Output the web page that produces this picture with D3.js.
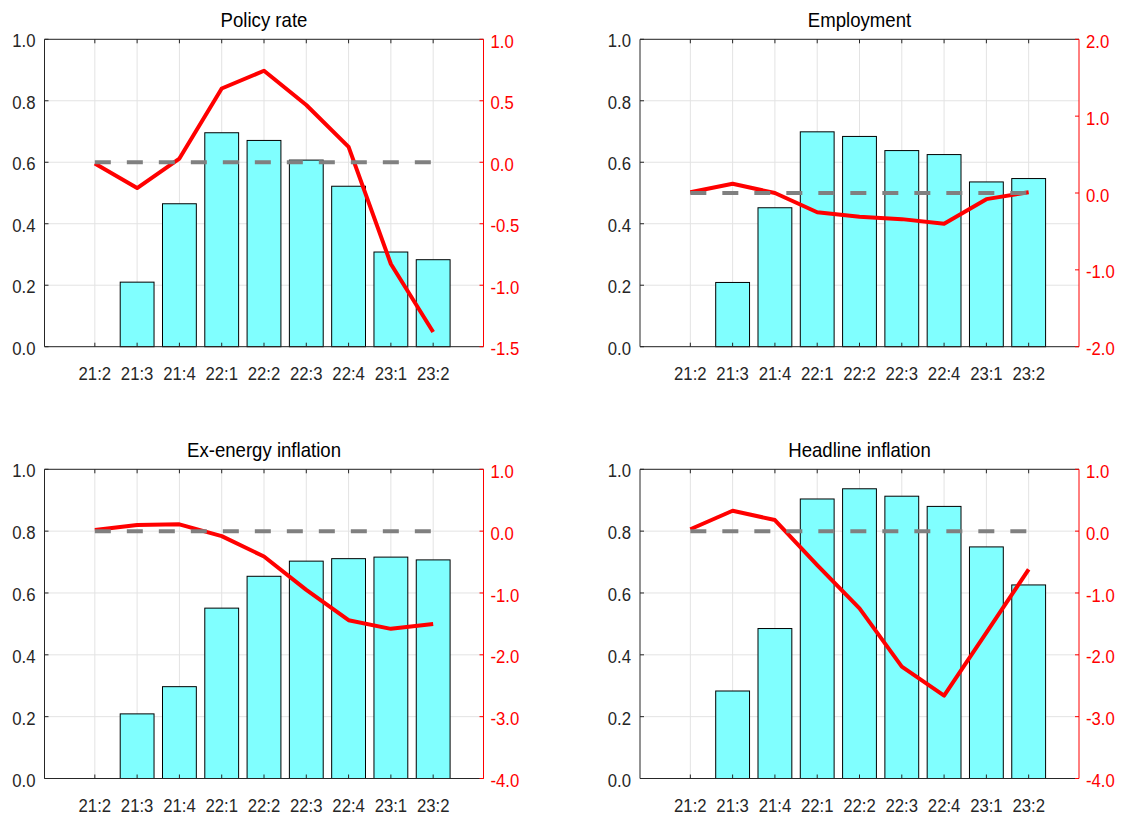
<!DOCTYPE html>
<html>
<head>
<meta charset="utf-8">
<script src="https://cdn.jsdelivr.net/npm/d3@7"></script>
<style>
  html, body { margin: 0; padding: 0; background: #ffffff; }
  svg text { font-family: "Liberation Sans", Arial, sans-serif; }
</style>
</head>
<body>
<svg id="chart" width="1126" height="821"></svg>
<script>
// Quarters shown on every panel
const categories = ["21:2", "21:3", "21:4", "22:1", "22:2", "22:3", "22:4", "23:1", "23:2"];

// Bar series (left axis, 0..1)
const policyBars     = [0, 0.21, 0.465, 0.696, 0.671, 0.607, 0.522, 0.308, 0.283];
const employmentBars = [0, 0.209, 0.452, 0.699, 0.684, 0.638, 0.625, 0.536, 0.547];
const exEnergyBars   = [0, 0.209, 0.297, 0.551, 0.654, 0.703, 0.711, 0.716, 0.707];
const headlineBars   = [0, 0.283, 0.485, 0.904, 0.937, 0.913, 0.880, 0.749, 0.626];

// Line series (right axis)
const policyLine     = [-0.01, -0.21, 0.03, 0.60, 0.744, 0.466, 0.125, -0.827, -1.38];
const employmentLine = [0.01, 0.12, 0.0, -0.25, -0.31, -0.34, -0.40, -0.08, 0.01];
const exEnergyLine   = [0.02, 0.10, 0.11, -0.08, -0.41, -0.95, -1.44, -1.58, -1.50];
const headlineLine   = [0.03, 0.33, 0.18, -0.55, -1.25, -2.19, -2.66, -1.64, -0.62];

// Axis settings
const titles       = ["Policy rate", "Employment", "Ex-energy inflation", "Headline inflation"];
const leftTicks    = [0, 0.2, 0.4, 0.6, 0.8, 1.0];
const rightDomains = [[-1.5, 1], [-2, 2], [-4, 1], [-4, 1]];
const rightTicks   = [
  [-1.5, -1.0, -0.5, 0.0, 0.5, 1.0],
  [-2, -1, 0, 1, 2],
  [-4, -3, -2, -1, 0, 1],
  [-4, -3, -2, -1, 0, 1]
];

const panels = [
  { bars: policyBars,     line: policyLine },
  { bars: employmentBars, line: employmentLine },
  { bars: exEnergyBars,   line: exEnergyLine },
  { bars: headlineBars,   line: headlineLine }
];

// Panel frames
const frames = [
  { x0: 44.5, x1: 483.5, y0: 39.3,  y1: 346.7 },
  { x0: 640,  x1: 1079,  y0: 39.3,  y1: 346.7 },
  { x0: 44.5, x1: 483.5, y0: 469.3, y1: 778.5 },
  { x0: 640,  x1: 1079,  y0: 469.3, y1: 778.5 }
];

const TEXT = "#262626";
const GRID = "#e3e3e3";
const RED  = "#ff0000";
const TICK_SQUEEZE  = 0.88;   // narrow letterforms for tick labels
const TITLE_SQUEEZE = 0.93;   // and for panel titles

const svg = d3.select("#chart");
svg.append("rect").attr("width", 1126).attr("height", 821).attr("fill", "#ffffff");

const fmt = v => (Math.abs(v) < 1e-9 ? 0 : v).toFixed(1);

// place a text node at (px, py) with horizontally condensed glyphs
function placeText(sel, px, py, sx) {
  sel.attr("x", 0).attr("y", 0)
     .attr("transform", (d, k) => `translate(${px(d, k)},${py(d, k)}) scale(${sx},1)`);
}

panels.forEach((p, i) => {
  const f = frames[i];
  const g = svg.append("g");

  const x = d3.scaleLinear().domain([-1.19, categories.length - 1 + 1.19]).range([f.x0, f.x1]);
  const yL = d3.scaleLinear().domain([0, 1]).range([f.y1, f.y0]);
  const yR = d3.scaleLinear().domain(rightDomains[i]).range([f.y1, f.y0]);
  const idx = categories.map((c, k) => k);
  const step = x(1) - x(0);
  const barW = step * 0.8;

  // grid
  g.append("g").selectAll("line").data(idx).join("line")
    .attr("x1", d => x(d)).attr("x2", d => x(d))
    .attr("y1", f.y0).attr("y2", f.y1)
    .attr("stroke", GRID).attr("stroke-width", 1);
  g.append("g").selectAll("line").data(leftTicks).join("line")
    .attr("x1", f.x0).attr("x2", f.x1)
    .attr("y1", d => yL(d)).attr("y2", d => yL(d))
    .attr("stroke", GRID).attr("stroke-width", 1);

  // bars
  g.append("g").selectAll("rect").data(p.bars.map((v, k) => ({ v, k })).filter(d => d.v > 0)).join("rect")
    .attr("x", d => x(d.k) - barW / 2)
    .attr("width", barW)
    .attr("y", d => yL(d.v))
    .attr("height", d => yL(0) - yL(d.v))
    .attr("fill", "#80ffff")
    .attr("stroke", "#000000")
    .attr("stroke-width", 1);

  // response line
  g.append("path")
    .datum(p.line)
    .attr("d", d3.line().x((d, k) => x(k)).y(d => yR(d)))
    .attr("fill", "none")
    .attr("stroke", RED)
    .attr("stroke-width", 4)
    .attr("stroke-linejoin", "round");

  // zero reference line
  g.append("line")
    .attr("x1", x(0)).attr("x2", x(categories.length - 1))
    .attr("y1", yR(0)).attr("y2", yR(0))
    .attr("stroke", "#808080")
    .attr("stroke-width", 4)
    .attr("stroke-dasharray", "16,16");

  // box: left, bottom, top
  g.append("path")
    .attr("d", `M${f.x1},${f.y0}H${f.x0}V${f.y1}H${f.x1}`)
    .attr("fill", "none").attr("stroke", TEXT).attr("stroke-width", 1);

  // x ticks (inside, bottom and top)
  const xt = g.append("g");
  xt.append("g").selectAll("line").data(idx).join("line")
    .attr("x1", d => x(d)).attr("x2", d => x(d))
    .attr("y1", f.y1).attr("y2", f.y1 - 4)
    .attr("stroke", TEXT);
  xt.append("g").selectAll("line").data(idx).join("line")
    .attr("x1", d => x(d)).attr("x2", d => x(d))
    .attr("y1", f.y0).attr("y2", f.y0 + 4)
    .attr("stroke", TEXT);
  xt.append("g").selectAll("text").data(idx).join("text")
    .attr("text-anchor", "middle")
    .attr("font-size", 19)
    .attr("fill", TEXT)
    .text(d => categories[d])
    .call(placeText, d => x(d), () => f.y1 + 33, TICK_SQUEEZE);

  // left axis ticks and labels
  const la = g.append("g");
  la.selectAll("line").data(leftTicks).join("line")
    .attr("x1", f.x0).attr("x2", f.x0 + 4)
    .attr("y1", d => yL(d)).attr("y2", d => yL(d))
    .attr("stroke", TEXT);
  la.selectAll("text").data(leftTicks).join("text")
    .attr("dy", "0.37em")
    .attr("text-anchor", "end")
    .attr("font-size", 19)
    .attr("fill", TEXT)
    .text(fmt)
    .call(placeText, () => f.x0 - 9, d => yL(d) + 1, TICK_SQUEEZE);

  // right axis (red)
  const ra = g.append("g");
  ra.append("line")
    .attr("x1", f.x1).attr("x2", f.x1).attr("y1", f.y0).attr("y2", f.y1)
    .attr("stroke", RED).attr("stroke-width", 1);
  ra.append("g").selectAll("line").data(rightTicks[i]).join("line")
    .attr("x1", f.x1).attr("x2", f.x1 - 4)
    .attr("y1", d => yR(d)).attr("y2", d => yR(d))
    .attr("stroke", RED);
  ra.append("g").selectAll("text").data(rightTicks[i]).join("text")
    .attr("dy", "0.37em")
    .attr("text-anchor", "start")
    .attr("font-size", 19)
    .attr("fill", RED)
    .text(fmt)
    .call(placeText, () => f.x1 + 7, d => yR(d) + 1.5, TICK_SQUEEZE);

  // title
  g.append("text")
    .datum(titles[i])
    .attr("text-anchor", "middle")
    .attr("font-size", 20)
    .attr("fill", "#000000")
    .text(d => d)
    .call(placeText, () => (f.x0 + f.x1) / 2, () => f.y0 - 12.5, TITLE_SQUEEZE);
});
</script>
</body>
</html>
